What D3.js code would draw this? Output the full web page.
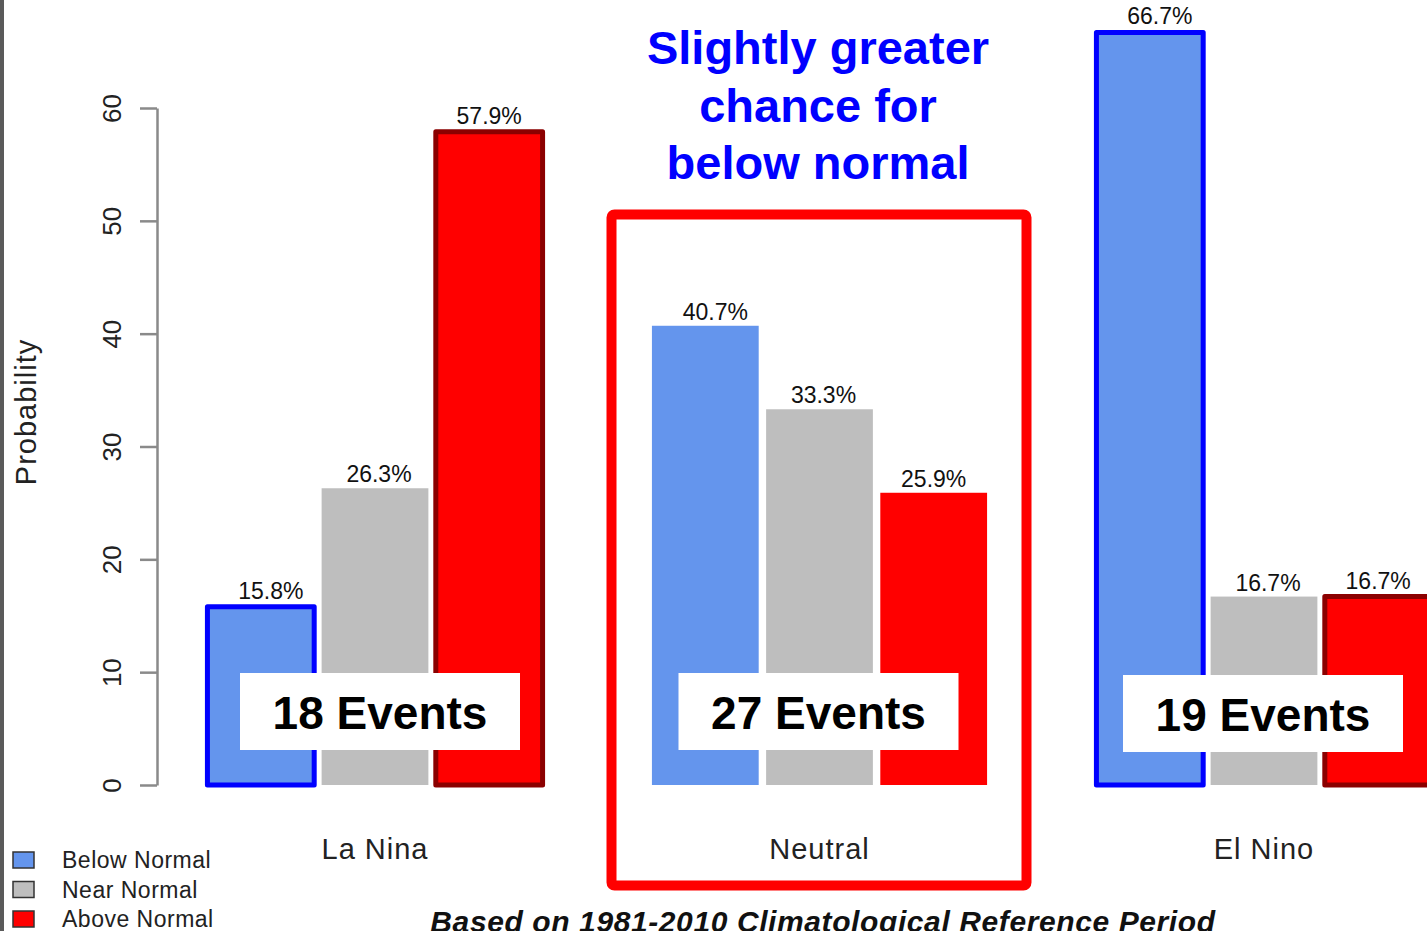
<!DOCTYPE html>
<html>
<head>
<meta charset="utf-8">
<script src="https://cdn.jsdelivr.net/npm/d3@7"></script>
<style>
  html, body { margin: 0; padding: 0; background: #fff; overflow: hidden; }
  svg { display: block; }
</style>
</head>
<body>
<svg id="chart" width="1427" height="931"></svg>
<script>
// ---- data ----
const categories = ["La Nina", "Neutral", "El Nino"];
const seriesNames = ["Below Normal", "Near Normal", "Above Normal"];
const belowNormal = [15.8, 40.7, 66.7];
const nearNormal  = [26.3, 33.3, 16.7];
const aboveNormal = [57.9, 25.9, 16.7];
const eventCounts = ["18 Events", "27 Events", "19 Events"];
const outlined = [[true, false, true], [false, false, false], [true, false, true]];
const yTicks = [0, 10, 20, 30, 40, 50, 60];
const annotationLines = ["Slightly greater", "chance for", "below normal"];
const caption = "Based on 1981-2010 Climatological Reference Period";
const yTitle = "Probability";

const fills = ["#6495ED", "#BEBEBE", "#FF0000"];
const borders = ["#0000FF", "#BEBEBE", "#8B0000"];
const labelShift = [10, 4, 0];
const seriesValues = [belowNormal, nearNormal, aboveNormal];

const svg = d3.select("#chart");

// left dark edge
svg.append("rect").attr("x", 0).attr("y", 0).attr("width", 4).attr("height", 931).attr("fill", "#5a5a5a");

// ---- scales ----
const y = d3.scaleLinear().domain([0, 60]).range([785, 108]);
const xGroup = d3.scalePoint().domain(categories).range([375, 1264]);
const xInner = d3.scaleBand().domain(seriesNames).range([-171, 171]).paddingInner(0.065).paddingOuter(0.03);

// ---- y axis ----
const axisG = svg.append("g").attr("transform", "translate(157,0)");
const yAxis = d3.axisLeft(y).tickValues(yTicks).tickSize(17).tickSizeOuter(0).tickFormat(d3.format("d"));
axisG.call(yAxis);
axisG.select(".domain").attr("stroke", "#8a8a8a").attr("stroke-width", 2.5);
axisG.selectAll(".tick line").attr("stroke", "#8a8a8a").attr("stroke-width", 2.5);
axisG.selectAll(".tick text")
  .attr("font-family", "Liberation Sans, Arial, sans-serif")
  .attr("font-size", 26)
  .attr("fill", "#222")
  .attr("text-anchor", "middle")
  .attr("x", 0).attr("dy", 0)
  .attr("transform", "translate(-45,0) rotate(-90)")
  .attr("y", 0)
  .attr("dominant-baseline", "central");

svg.append("text")
  .attr("transform", `translate(36,${(337 + 487) / 2}) rotate(-90)`)
  .attr("text-anchor", "middle")
  .attr("font-family", "Liberation Sans, Arial, sans-serif")
  .attr("font-size", 29)
  .attr("letter-spacing", 1)
  .attr("fill", "#222")
  .text(yTitle);

// ---- bars ----
const rows = [];
categories.forEach((c, ci) => {
  seriesNames.forEach((s, si) => {
    rows.push({ cat: c, ci, series: s, si, value: seriesValues[si][ci], outline: outlined[ci][si] });
  });
});

const groups = svg.append("g");
groups.selectAll("rect.bar").data(rows).enter().append("rect")
  .attr("class", "bar")
  .attr("x", d => xGroup(d.cat) + xInner(d.series))
  .attr("width", xInner.bandwidth())
  .attr("y", d => y(d.value))
  .attr("height", d => y(0) - y(d.value))
  .attr("fill", d => fills[d.si])
  .attr("stroke", d => d.outline ? borders[d.si] : "none")
  .attr("stroke-width", 5)
  .attr("stroke-linejoin", "round");

groups.selectAll("text.val").data(rows).enter().append("text")
  .attr("class", "val")
  .attr("x", d => xGroup(d.cat) + xInner(d.series) + xInner.bandwidth() / 2 + labelShift[d.si])
  .attr("y", d => y(d.value) - (d.outline ? 8 : 6))
  .attr("text-anchor", "middle")
  .attr("font-family", "Liberation Sans, Arial, sans-serif")
  .attr("font-size", 23)
  .attr("fill", "#111")
  .text(d => d.value.toFixed(1) + "%");

// category labels
svg.selectAll("text.cat").data(categories).enter().append("text")
  .attr("class", "cat")
  .attr("x", d => xGroup(d))
  .attr("y", 859)
  .attr("text-anchor", "middle")
  .attr("font-family", "Liberation Sans, Arial, sans-serif")
  .attr("font-size", 29)
  .attr("letter-spacing", 1)
  .attr("fill", "#222")
  .text(d => d);

// event boxes
const evG = svg.selectAll("g.ev").data(categories).enter().append("g")
  .attr("class", "ev")
  .attr("transform", (d, i) => `translate(${xGroup(d) + [5, -1, -1][i]},${[712, 712, 714][i]})`);
evG.append("rect").attr("x", -140).attr("y", -39).attr("width", 280).attr("height", 77).attr("fill", "#fff");
evG.append("text")
  .attr("x", 0).attr("y", 17)
  .attr("text-anchor", "middle")
  .attr("font-family", "Liberation Sans, Arial, sans-serif")
  .attr("font-weight", "bold")
  .attr("font-size", 46)
  .attr("fill", "#000")
  .text((d, i) => eventCounts[i]);

// highlight box
svg.append("rect")
  .attr("x", 611.5).attr("y", 214.5).attr("width", 415).attr("height", 671)
  .attr("rx", 3)
  .attr("fill", "none").attr("stroke", "#FF0000").attr("stroke-width", 10);

// annotation
svg.selectAll("text.ann").data(annotationLines).enter().append("text")
  .attr("class", "ann")
  .attr("x", 818)
  .attr("y", (d, i) => 64 + i * 57.5)
  .attr("text-anchor", "middle")
  .attr("font-family", "Liberation Sans, Arial, sans-serif")
  .attr("font-weight", "bold")
  .attr("font-size", 47)
  .attr("fill", "#0000FF")
  .text(d => d);

// legend
const lg = svg.selectAll("g.lg").data(seriesNames).enter().append("g")
  .attr("class", "lg")
  .attr("transform", (d, i) => `translate(13,${852 + i * 29.5})`);
lg.append("rect").attr("width", 21).attr("height", 16)
  .attr("fill", (d, i) => fills[i]).attr("stroke", "#333").attr("stroke-width", 1.5);
lg.append("text")
  .attr("x", 49).attr("y", 16)
  .attr("font-family", "Liberation Sans, Arial, sans-serif")
  .attr("font-size", 23)
  .attr("letter-spacing", 0.5)
  .attr("fill", "#222")
  .text(d => d);

// caption
svg.append("text")
  .attr("x", 823).attr("y", 932)
  .attr("text-anchor", "middle")
  .attr("font-family", "Liberation Sans, Arial, sans-serif")
  .attr("font-weight", "bold")
  .attr("font-style", "italic")
  .attr("font-size", 30)
  .attr("letter-spacing", 0.6)
  .attr("fill", "#111")
  .text(caption);
</script>
</body>
</html>
